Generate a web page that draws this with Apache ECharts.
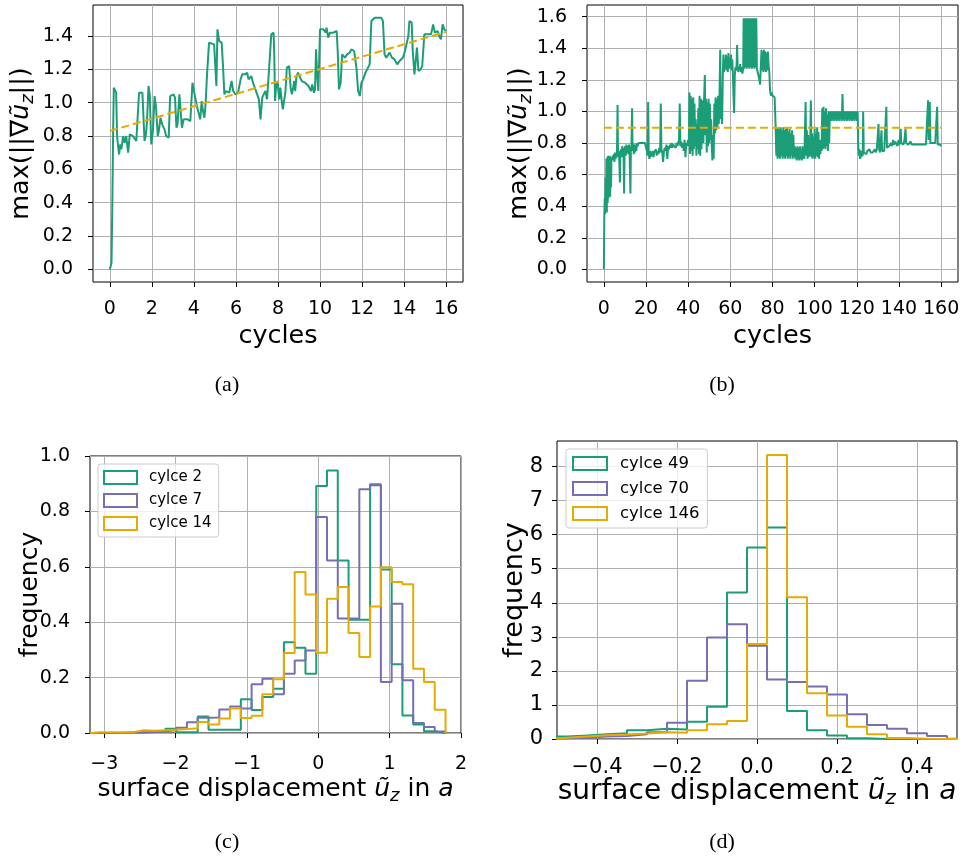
<!DOCTYPE html>
<html><head><meta charset="utf-8">
<script src="https://cdn.jsdelivr.net/npm/echarts@6/dist/echarts.min.js"></script>
<style>html,body{margin:0;padding:0;background:#fff}#c{width:965px;height:862px}</style>
</head><body><div id="c"></div>
<script>
const GREEN = '#1b9e77', PURPLE = '#7570b3', YELLOW = '#e6ab02';
const FONT = 'DejaVu Sans';

// (a) max gradient vs cycles (16 cycles)
const aSeries = [[0,0.0],[0.08,0.04],[0.12,0.4],[0.16,0.85],[0.19,1.09],[0.25,1.08],[0.3,1.06],[0.35,0.79],[0.44,0.69],[0.5,0.75],[0.55,0.72],[0.63,0.80],[0.7,0.76],[0.78,0.80],[0.87,0.70],[0.95,0.81],[1.03,0.82],[1.1,0.80],[1.18,0.79],[1.26,0.77],
[1.39,1.06],[1.55,1.06],[1.6,1.05],[1.65,0.77],[1.72,0.81],[1.77,0.89],[1.84,1.10],[1.9,1.05],[1.97,0.75],[2.05,0.83],[2.13,1.04],[2.2,0.97],[2.28,0.80],[2.33,0.83],[2.41,0.91],[2.49,0.87],[2.6,0.84],[2.68,0.80],[2.8,0.79],
[2.87,1.04],[3.03,1.05],[3.1,1.03],[3.17,0.85],[3.22,0.87],[3.31,1.05],[3.37,0.95],[3.43,0.85],[3.51,0.90],[3.7,0.90],[3.83,0.89],
[3.93,1.12],[4.0,1.07],[4.08,1.02],[4.16,0.97],[4.24,0.96],[4.30,0.90],[4.37,1.01],[4.43,0.95],[4.5,0.91],[4.56,1.0],[4.62,1.16],[4.72,1.36],[4.96,1.35],[5.03,1.19],[5.07,1.10],[5.12,1.44],[5.2,1.37],[5.32,1.36],[5.38,1.23],[5.45,1.05],[5.52,1.07],[5.6,1.07],[5.68,1.06],[5.79,1.13],[5.87,1.07],[5.98,1.05],[6.1,1.06],[6.22,1.14],[6.30,1.17],[6.43,1.17],[6.53,1.18],[6.6,1.14],[6.73,1.16],[6.81,1.12],[6.88,1.13],[7.01,1.05],[7.09,1.02],[7.17,0.90],[7.25,1.03],[7.32,1.05],[7.40,1.07],[7.48,1.02],[7.56,1.01],[7.64,1.33],[7.68,1.41],[7.79,1.42],[7.82,1.30],[7.86,1.01],[7.91,1.10],[7.98,1.12],[8.06,1.02],[8.11,1.09],[8.18,1.01],[8.23,0.96],[8.30,1.02],[8.35,1.06],[8.42,1.21],[8.53,1.22],[8.6,1.09],[8.66,1.05],[8.71,1.08],[8.77,1.13],[8.82,1.07],[8.87,1.15],[8.95,1.18],[9.02,1.16],[9.13,1.13],[9.29,1.12],[9.45,1.10],[9.57,1.07],[9.63,1.11],[9.71,1.06],[9.76,1.08],[9.81,1.32],[9.87,1.15],[9.92,1.07],[10.0,1.44],[10.16,1.44],[10.27,1.42],[10.31,1.45],[10.39,1.39],[10.47,1.42],[10.63,1.42],[10.79,1.43],[10.84,1.31],[10.9,1.08],[10.98,1.12],[11.05,1.29],[11.18,1.27],[11.29,1.29],[11.41,1.30],[11.49,1.32],[11.62,1.31],[11.68,1.30],[11.73,1.21],[11.81,1.07],[11.89,1.04],[11.97,1.12],[12.05,1.14],[12.16,1.18],[12.25,1.19],[12.36,1.23],[12.44,1.49],[12.6,1.51],[12.91,1.51],[12.99,1.49],[13.07,1.29],[13.15,1.27],[13.31,1.30],[13.42,1.27],[13.54,1.26],[13.67,1.23],[13.78,1.25],[13.86,1.26],[13.94,1.27],[14.02,1.30],[14.1,1.29],[14.2,1.40],[14.25,1.49],[14.36,1.48],[14.41,1.31],[14.49,1.17],[14.57,1.18],[14.61,1.33],[14.68,1.19],[14.78,1.20],[14.86,1.22],[14.91,1.21],[14.96,1.41],[15.09,1.41],[15.28,1.41],[15.38,1.47],[15.46,1.42],[15.59,1.43],[15.67,1.40],[15.75,1.38],[15.83,1.47],[15.91,1.44],[15.99,1.43]];
const aTrend = [[0,0.83],[16,1.425]];

// (b) max gradient vs cycles (160 cycles)
const bSeries = [[0,0.0],[0.2,0.33],[0.4,0.45],[0.6,0.35],[0.8,0.58],[1.0,0.37],[1.2,0.70],[1.4,0.36],[1.6,0.71],[1.8,0.42],[2.0,0.72],[2.2,0.45],[2.4,0.71],[2.6,0.48],[2.8,0.72],[3.0,0.46],[3.2,0.70],[3.4,0.52],[3.6,0.71],
[3.9,0.69],[4.2,0.72],[4.5,0.70],[4.8,0.73],[5.0,0.68],[5.3,0.74],[5.6,0.70],[5.9,0.73],[6.2,0.71],[6.5,1.04],[6.7,0.72],[7.0,0.75],[7.3,0.70],[7.6,0.55],[7.8,0.72],[8.1,0.76],[8.4,0.71],[8.7,0.78],[9.0,0.72],[9.3,0.77],[9.6,0.48],[9.8,0.73],[10.1,0.78],[10.4,0.72],[10.7,0.79],[11.0,0.74],[11.3,0.78],[11.6,0.73],[11.9,0.79],[12.2,0.74],[12.6,0.48],[12.8,0.75],[13.1,0.79],[13.4,1.02],[13.6,0.75],[13.9,0.80],[14.2,0.73],[14.5,0.79],[14.8,0.74],[15.1,0.79],[15.4,0.75],[15.7,0.80],[16.0,0.78],[16.5,0.80],[17,0.79],[17.5,0.80],[18,0.79],[18.5,0.80],[19,0.81],[19.5,0.80],[20.0,0.79],[20.4,0.75],[20.7,0.72],[21.0,1.06],[21.3,0.73],[21.6,0.70],[21.9,0.75],[22.2,0.71],[22.5,0.74],[22.8,0.72],[23.1,0.75],[23.5,0.71],[23.9,0.74],[24.3,0.73],[24.7,0.76],[25.1,0.72],[25.5,0.75],[25.9,0.73],[26.3,0.77],[26.7,0.74],[27.0,1.05],[27.3,0.76],[27.7,0.74],[28.1,0.68],[28.5,0.75],[28.9,0.77],[29.3,0.75],[29.7,0.79],[30.1,0.70],[30.5,0.78],[30.9,0.76],[31.3,0.79],[31.7,0.77],[32.1,0.80],[32.5,0.77],[32.9,0.79],[33.3,0.78],[33.7,0.80],[34.1,0.77],[34.5,0.80],[34.9,0.78],[35.3,0.81],[35.6,0.79],[36.0,1.05],[36.3,0.78],[36.7,0.81],[37.1,0.77],[37.5,0.80],[37.9,0.75],[38.3,0.82],[38.7,0.71],[39.1,0.80],[39.5,0.78],[39.9,0.82],
[40.3,0.78],[40.6,1.12],[40.9,0.73],[41.2,1.10],[41.5,0.75],[41.8,1.08],[42.1,0.72],[42.4,1.09],[42.7,0.76],[43.0,1.05],[43.3,0.78],[43.6,0.95],[43.9,0.72],[44.2,0.92],[44.5,0.76],[44.8,1.02],[45.1,0.73],[45.4,1.10],[45.7,0.72],[46.0,1.08],[46.3,0.76],[46.6,1.07],[46.9,1.03],[47.2,0.80],[47.5,1.06],[47.9,1.23],[48.2,0.85],[48.5,1.08],[48.8,0.74],[49.1,1.06],[49.4,0.78],[49.7,1.08],[50.0,0.80],[50.3,1.05],[50.6,0.82],[50.9,0.95],[51.2,0.78],[51.5,0.69],[51.8,0.85],[52.1,0.70],[52.4,1.05],[52.7,0.86],[53.0,1.09],[53.3,0.88],[53.6,1.08],[53.9,0.90],[54.2,1.10],[54.5,0.92],[54.8,1.05],[55.2,1.39],[55.5,0.95],[55.8,1.12],[56.1,0.92],[56.4,1.20],[56.7,1.36],[57.0,1.25],[57.3,1.33],[57.6,1.27],[57.9,1.36],[58.2,1.26],[58.5,1.35],[58.8,1.25],[59.1,1.37],[59.4,1.27],[59.7,1.34],[60.0,1.28],[60.3,1.36],[60.6,1.26],[60.9,1.33],[61.2,1.24],[61.5,1.10],[61.8,0.99],[62.1,1.22],[62.4,1.28],[62.7,1.26],[63.0,1.30],[63.2,1.42],[63.5,1.27],[63.8,1.25],[64.1,1.28],[64.4,1.26],[64.7,1.30],[65.0,1.25],[65.3,1.28],[65.7,1.24],[66.1,1.27],
[66.3,1.59],[66.6,1.27],[66.9,1.59],[67.2,1.28],[67.5,1.59],[67.8,1.27],[68.1,1.59],[68.4,1.28],[68.7,1.59],[69.0,1.27],[69.3,1.59],[69.6,1.28],[69.9,1.59],[70.2,1.27],[70.5,1.59],[70.8,1.28],[71.1,1.59],[71.4,1.27],[71.7,1.59],[72.0,1.28],[72.3,1.59],[72.6,1.27],
[72.9,1.28],[73.2,1.26],[73.5,1.28],[73.8,1.20],[74.1,1.17],[74.4,1.27],[74.8,1.39],[75.1,1.26],[75.4,1.38],[75.7,1.25],[76.0,1.39],[76.3,1.26],[76.6,1.38],[76.9,1.25],[77.2,1.37],[77.5,1.26],[77.8,1.38],[78.1,1.30],[78.5,1.25],[78.8,1.14],[79.2,1.10],[79.6,1.12],[80.0,1.10],[80.5,1.11],[81.0,1.09],
[81.5,0.90],[81.8,0.72],[82.1,0.90],[82.4,0.70],[82.7,0.90],[83.0,0.71],[83.3,0.89],[83.6,0.70],[83.9,0.90],[84.2,0.72],[84.5,0.88],[84.8,0.70],[85.1,0.90],[85.4,0.71],[85.7,0.88],[86.0,0.70],[86.3,0.89],[86.6,0.72],[86.9,0.90],[87.2,0.70],[87.5,0.87],[87.8,0.71],[88.1,0.89],[88.4,0.70],[88.7,0.86],[89.0,0.72],[89.3,0.88],[89.6,0.70],[89.9,0.85],[90.2,0.71],[90.6,0.78],[90.9,0.70],[91.2,0.77],[91.5,0.69],[91.8,0.78],[92.1,0.70],[92.4,0.77],[92.7,0.69],[93.0,0.78],[93.3,0.70],[93.6,0.76],[93.9,0.69],[94.2,0.78],[94.5,0.70],[94.8,0.77],[95.1,0.70],[95.7,1.06],[96.0,0.72],[96.3,0.88],[96.6,0.70],[96.9,0.85],[97.2,0.71],[97.5,0.80],[97.8,0.72],[98.2,1.07],[98.5,0.71],[98.8,0.86],[99.1,0.70],[99.4,0.84],[99.7,0.71],[100.0,0.89],[100.3,0.70],[100.6,0.86],[100.9,0.72],[101.2,0.90],[101.5,0.71],[101.8,0.87],[102.1,0.70],[102.4,0.82],[102.7,0.73],[103.0,0.78],[103.3,0.75],[103.6,1.02],[103.9,0.76],[104.2,1.03],[104.5,0.77],[104.8,1.00],[105.1,0.76],[105.4,1.02],[105.7,0.78],[106.0,0.98],[106.3,0.75],[106.6,1.00],[106.9,0.80],[107.2,1.00],
[107.5,0.94],[107.8,1.00],[108.1,0.94],[108.4,1.00],[108.7,0.95],[109.0,1.00],[109.3,0.94],[109.6,1.00],[109.9,0.95],[110.2,1.00],[110.5,0.94],[110.8,1.00],[111.1,0.95],[111.4,1.00],[111.7,0.94],[112.0,1.00],[112.3,0.95],[112.6,1.00],[112.9,0.94],[113.2,1.11],[113.5,0.95],[113.8,1.00],[114.1,0.94],[114.4,1.00],[114.7,0.95],[115.0,1.00],[115.3,0.94],[115.6,1.00],[115.9,0.95],[116.2,1.00],[116.5,0.94],[116.8,1.00],[117.1,0.95],[117.4,1.00],[117.7,0.94],[118.0,1.00],[118.3,0.95],[118.6,1.00],[118.9,0.94],[119.2,1.00],[119.5,0.95],[119.8,1.00],[120.1,0.94],[120.4,1.00],
[120.7,0.77],[121.0,0.72],[121.3,0.76],[121.6,0.70],[121.9,0.75],[122.2,0.71],[122.5,0.74],[122.8,0.72],[123.0,1.00],[123.3,0.74],[123.6,0.73],[124.0,0.75],[124.5,0.73],[125,0.75],[125.5,0.74],[126,0.76],[126.5,0.74],[127,0.75],[127.5,0.74],[128,0.75],[128.5,0.76],[129,0.74],[129.5,0.76],[130,0.75],[130.3,0.92],[130.6,0.76],[131,0.74],[131.7,0.88],[132.0,0.75],[132.5,0.76],[133,0.75],[133.5,0.76],[134.0,1.03],[134.3,0.77],[134.8,0.76],[135.3,0.78],[135.7,0.77],[136.2,0.80],[136.7,0.78],[137.2,0.82],[137.7,0.79],[138.2,0.81],[138.8,0.80],[139.3,0.78],[139.8,0.82],[140.3,0.79],[140.8,0.89],[141.1,0.80],[141.6,0.81],[142.1,0.79],[142.6,0.82],[143.1,0.89],[143.4,0.80],[143.9,0.81],[144.4,0.79],[145.0,0.80],[145.5,0.81],[146.0,0.79],[146.7,0.80],[147.2,0.79],[147.8,0.80],[148.3,0.79],[148.8,0.80],[149.3,0.79],[149.8,0.80],[150.4,0.79],[151,0.80],[151.6,0.79],[152.2,0.80],[152.8,0.79],[153.4,0.80],[153.8,1.07],[154.1,0.82],[154.6,1.06],[154.9,0.80],[155.4,0.79],[156,0.80],[156.6,0.79],[157.2,0.80],[157.8,0.79],[158.1,1.03],[158.4,0.79],[159,0.80],[159.5,0.79],[160,0.78]];
const bMean = [[0,0.896],[160,0.896]];

// (c) histogram, bin edges and frequencies
const cEdges = [-3.200,-3.049,-2.898,-2.747,-2.596,-2.445,-2.294,-2.143,-1.992,-1.841,-1.690,-1.539,-1.388,-1.237,-1.086,-0.935,-0.784,-0.633,-0.482,-0.331,-0.180,-0.029,0.122,0.273,0.424,0.575,0.726,0.877,1.028,1.179,1.330,1.481,1.632,1.783];
const cCycle2  = [0,0,0,0.002,0.002,0.004,0.006,0.015,0.003,0.003,0.06,0.012,0.012,0.012,0.122,0.083,0.13,0.16,0.328,0.308,0.214,0.892,0.948,0.623,0.409,0.409,0.894,0.59,0.248,0.063,0.031,0.006,0];
const cCycle7  = [0,0,0.001,0.002,0.003,0.004,0.006,0.01,0.019,0.039,0.055,0.056,0.085,0.096,0.088,0.176,0.196,0.14,0.214,0.262,0.298,0.78,0.623,0.413,0.413,0.88,0.898,0.184,0.467,0.19,0.036,0.022,0.005];
const cCycle14 = [0.003,0.003,0.002,0.003,0.01,0.008,0.01,0.012,0.014,0.017,0.04,0.031,0.052,0.088,0.054,0.062,0.14,0.194,0.289,0.581,0.5,0.29,0.485,0.527,0.361,0.274,0.457,0.598,0.545,0.537,0.232,0.184,0.084];

// (d) histogram
const dEdges = [-0.525,-0.475,-0.425,-0.375,-0.325,-0.275,-0.225,-0.175,-0.125,-0.075,-0.025,0.025,0.075,0.125,0.175,0.225,0.275,0.325,0.375,0.425,0.475,0.525];
const dCycle49  = [0.07,0.1,0.14,0.17,0.26,0.3,0.28,0.51,0.95,4.3,5.62,6.21,0.82,0.26,0.1,0.02,0,0,0,0,0];
const dCycle70  = [0.02,0.04,0.07,0.09,0.14,0.2,0.48,1.71,2.98,3.37,2.74,1.75,1.67,1.54,1.31,0.73,0.41,0.3,0.17,0.09,0.01];
const dCycle146 = [0.04,0.07,0.11,0.13,0.16,0.2,0.18,0.26,0.43,0.53,2.79,8.34,4.16,1.34,0.69,0.36,0.14,0.03,0.01,0,0];

// ticks
const aXTicks = [0,2,4,6,8,10,12,14,16];
const aYTicks = [0,0.2,0.4,0.6,0.8,1.0,1.2,1.4];
const bXTicks = [0,20,40,60,80,100,120,140,160];
const bYTicks = [0,0.2,0.4,0.6,0.8,1.0,1.2,1.4,1.6];
const cXTicks = [-3,-2,-1,0,1,2];
const cYTicks = [0,0.2,0.4,0.6,0.8,1.0];
const dXTicks = [-0.4,-0.2,0,0.2,0.4];
const dYTicks = [0,1,2,3,4,5,6,7,8];

function stepOutline(edges, h) {
  const pts = [[edges[0], 0]];
  for (let i = 0; i < h.length; i++) {
    pts.push([edges[i], h[i]]);
    pts.push([edges[i + 1], h[i]]);
  }
  pts.push([edges[h.length], 0]);
  return pts;
}

const minus = s => s.replace('-', '\u2212');
function inList(list, v) { return list.some(t => Math.abs(t - v) < 1e-9); }

function axis(grid, min, max, ticks, fmt, name, nameGap, fs, nfs, margin, splitNumber) {
  return {
    type: 'value', gridIndex: grid, min, max, splitNumber,
    name, nameLocation: 'middle', nameGap, nameMoveOverlap: false,
    nameTextStyle: nameStyle(nfs),
    axisLine: { show: false, onZero: false },
    axisTick: { show: true, inside: false, length: 5, lineStyle: { color: '#000', width: 1 }, customValues: ticks },
    axisLabel: { show: true, margin, fontFamily: FONT, fontSize: fs, color: '#000', customValues: ticks,
      formatter: v => inList(ticks, v) ? minus(fmt(v)) : '' },
    splitLine: { show: true, lineStyle: { color: '#b0b0b0', width: 1 } }
  };
}
function nameStyle(nfs) {
  return {
    fontFamily: FONT, fontSize: nfs, color: '#000', lineHeight: nfs + 6,
    rich: {
      n: { fontFamily: FONT, fontSize: nfs, color: '#000' },
      i: { fontFamily: FONT, fontSize: nfs, fontStyle: 'italic', color: '#000' },
      s: { fontFamily: FONT, fontSize: Math.round(nfs * 0.7), fontStyle: 'italic', color: '#000', verticalAlign: 'bottom', lineHeight: Math.round(nfs * 0.7) }
    }
  };
}
const gradName = '{n|max(||∇}{i|ũ}{s|z}{n|||)}';
const dispName = '{n|surface displacement }{i|ũ}{s|z}{n| in }{i|a}';

const lineS = (name, x, y, data, color, extra) => Object.assign({
  type: 'line', name, xAxisIndex: x, yAxisIndex: y, data, symbol: 'none', showSymbol: false,
  lineStyle: { color, width: 2 }, itemStyle: { color }, silent: true, animation: false
}, extra || {});

const legendItem = (name, color) => ({ name, icon: 'rect',
  itemStyle: { color: 'rgba(255,255,255,0)', borderColor: color, borderWidth: 2 } });

const gridBase = { show: true, borderColor: '#000', borderWidth: 1, backgroundColor: 'transparent', containLabel: false, outerBoundsMode: 'none' };

const option = {
  animation: false,
  backgroundColor: '#fff',
  grid: [
    Object.assign({ left: 93, top: 5, width: 370, height: 277 }, gridBase),
    Object.assign({ left: 587, top: 5, width: 371, height: 277 }, gridBase),
    Object.assign({ left: 90, top: 456, width: 371, height: 277 }, gridBase),
    Object.assign({ left: 557, top: 441, width: 400, height: 298 }, gridBase)
  ],
  xAxis: [
    axis(0, -0.8, 16.8, aXTicks, v => String(v), 'cycles', 39, 19, 25.5, 18, 9),
    axis(1, -8, 168, bXTicks, v => String(v), 'cycles', 39, 19, 25.5, 18, 9),
    axis(2, -3.2, 2.0, cXTicks, v => String(v), dispName, 41, 19, 25, 22, 5),
    axis(3, -0.5, 0.5, dXTicks, v => v.toFixed(1), dispName, 36, 21, 28, 18, 5)
  ],
  yAxis: [
    axis(0, -0.0755, 1.586, aYTicks, v => v.toFixed(1), gradName, 56, 19, 25.5, 20, 8),
    axis(1, -0.08, 1.674, bYTicks, v => v.toFixed(1), gradName, 52, 19, 25.5, 20, 8),
    axis(2, 0, 1.0, cYTicks, v => v.toFixed(1), 'frequency', 44, 19, 25, 20, 5),
    axis(3, 0, 8.75, dYTicks, v => String(v), 'frequency', 26, 21, 27, 14, 9)
  ],
  legend: [
    { show: true, orient: 'vertical', left: 98, top: 464, itemWidth: 33, itemHeight: 13, itemGap: 8,
      padding: [6, 7, 6, 5], backgroundColor: 'rgba(255,255,255,0.8)', borderColor: '#cccccc', borderWidth: 1, borderRadius: 3,
      selectedMode: false, textStyle: { fontFamily: FONT, fontSize: 15, color: '#000', padding: [0, 0, 0, 7] },
      data: [legendItem('cylce 2', GREEN), legendItem('cylce 7', PURPLE), legendItem('cylce 14', YELLOW)] },
    { show: true, orient: 'vertical', left: 566, top: 449, itemWidth: 34, itemHeight: 13, itemGap: 8,
      padding: [6, 8, 6, 6], backgroundColor: 'rgba(255,255,255,0.8)', borderColor: '#cccccc', borderWidth: 1, borderRadius: 3,
      selectedMode: false, textStyle: { fontFamily: FONT, fontSize: 16.5, color: '#000', padding: [0, 0, 0, 8] },
      data: [legendItem('cylce 49', GREEN), legendItem('cylce 70', PURPLE), legendItem('cylce 146', YELLOW)] }
  ],
  series: [
    lineS('a', 0, 0, aSeries, GREEN),
    lineS('a-fit', 0, 0, aTrend, YELLOW, { lineStyle: { color: YELLOW, width: 2, type: [8, 4] } }),
    lineS('b', 1, 1, bSeries, GREEN, { lineStyle: { color: GREEN, width: 2 } }),
    lineS('b-mean', 1, 1, bMean, YELLOW, { lineStyle: { color: YELLOW, width: 2, type: [8, 4] } }),
    lineS('cylce 2', 2, 2, stepOutline(cEdges, cCycle2), GREEN),
    lineS('cylce 7', 2, 2, stepOutline(cEdges, cCycle7), PURPLE),
    lineS('cylce 14', 2, 2, stepOutline(cEdges, cCycle14), YELLOW),
    lineS('cylce 49', 3, 3, stepOutline(dEdges, dCycle49), GREEN),
    lineS('cylce 70', 3, 3, stepOutline(dEdges, dCycle70), PURPLE),
    lineS('cylce 146', 3, 3, stepOutline(dEdges, dCycle146), YELLOW)
  ],
  graphic: [
    { type: 'text', x: 227, y: 385, style: { text: '(a)', font: '22px "Liberation Serif"', fill: '#000', textAlign: 'center', textVerticalAlign: 'middle' } },
    { type: 'text', x: 722, y: 385, style: { text: '(b)', font: '22px "Liberation Serif"', fill: '#000', textAlign: 'center', textVerticalAlign: 'middle' } },
    { type: 'text', x: 227, y: 842, style: { text: '(c)', font: '22px "Liberation Serif"', fill: '#000', textAlign: 'center', textVerticalAlign: 'middle' } },
    { type: 'text', x: 722, y: 842, style: { text: '(d)', font: '22px "Liberation Serif"', fill: '#000', textAlign: 'center', textVerticalAlign: 'middle' } }
  ]
};
const chart = echarts.init(document.getElementById('c'), null, { renderer: 'canvas' });
chart.setOption(option);
</script>
</body></html>
